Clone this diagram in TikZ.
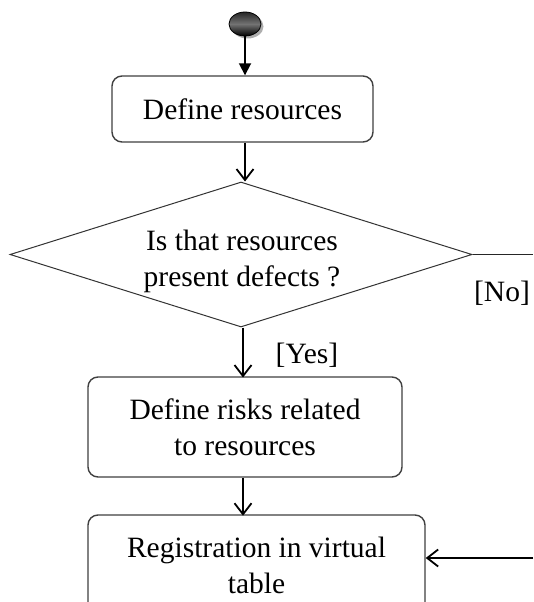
\documentclass[tikz,border=0pt]{standalone}
\usepackage{fontspec}
\setmainfont{Liberation Serif}
\usetikzlibrary{arrows.meta,shapes.geometric,shadows}
\tikzset{
  actbox/.style={draw=black!75, line width=1.4pt, rounded corners=10pt, align=center,
    inner sep=0pt, font=\fontsize{29.5}{36}\selectfont},
  flow/.style={draw=black, line width=1.8pt, -{Straight Barb[length=11pt,width=17pt,line width=1.8pt]}},
  lbl/.style={font=\fontsize{29.5}{36}\selectfont, inner sep=0pt, align=center},
}
\begin{document}
\begin{tikzpicture}[x=1pt,y=-1pt]
\useasboundingbox (0,0) rectangle (533,602);
\clip (0,0) rectangle (533,602);
\fill[white] (0,0) rectangle (533,602);
% start node
\node[ellipse, minimum width=32pt, minimum height=24pt, inner sep=0pt,
      top color=black!85, bottom color=black, middle color=black!55,
      draw=black, line width=0.8pt,
      drop shadow={shadow xshift=2.5pt, shadow yshift=-2.5pt, fill=black!45, opacity=0.7}]
      (start) at (245,24) {};
% boxes
\node[actbox, minimum width=261pt, minimum height=66pt] (b1) at (242.5,109) {Define resources};
\node[diamond, draw=black!80, line width=1pt, minimum width=462pt, minimum height=145pt,
      inner sep=0pt] (dec) at (241,254.5) {};
\node[lbl] (dtext) at (242,261) {Is that resources\\present defects ?};
\node[actbox, minimum width=314pt, minimum height=100pt] (b2) at (245,427) {Define risks related\\to resources};
\node[actbox, minimum width=337pt, minimum height=100pt] (b3) at (256.5,565) {Registration in virtual\\table};
% labels
\node[lbl] (yes) at (307,355) {[Yes]};
\node[lbl] (no) at (502,293) {[No]};
% free ends
\coordinate (rout) at (533,254.5);
\coordinate (rin) at (533,558);
% connectors
\draw[draw=black, line width=1.8pt, -{Triangle[length=12pt,width=12pt]}]
  (start.south) -- (start.south |- b1.north);
\draw[flow] (start.south |- b1.south) -- (start.south |- dec.north);
\draw[flow] (dec.south -| b2.north) ++(-2,0) -- ++(0,50);
\draw[flow] (b2.south) ++(-2,0) -- ++(0,38);
\draw[draw=black!85, line width=1.6pt] (dec.east) -- (rout);
\draw[flow] (rin) -- (rin -| b3.east);
\end{tikzpicture}
\end{document}
